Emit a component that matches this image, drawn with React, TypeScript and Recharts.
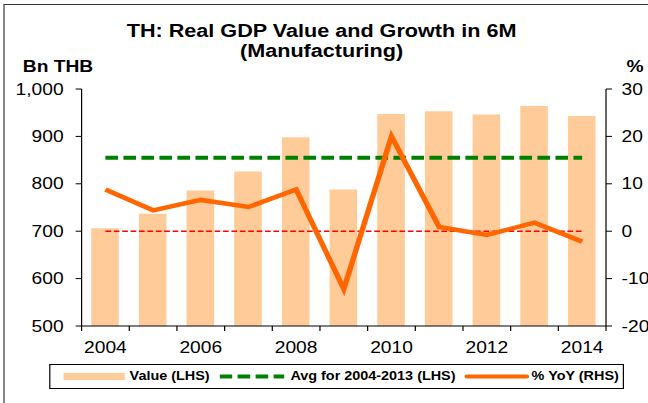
import { Bar, ComposedChart, Line, XAxis, YAxis } from "recharts";

const YEARS = [2004, 2005, 2006, 2007, 2008, 2009, 2010, 2011, 2012, 2013, 2014];
const VALUE_BN_THB = [706, 737, 786, 826, 898, 788, 947, 953, 946, 964, 943];
const YOY_PCT = [8.8, 4.4, 6.6, 5.1, 8.8, -12.2, 20.0, 0.9, -0.8, 1.8, -2.2];
const AVG_2004_2013 = 855;
const ZERO_PCT = 0;

const LABELED_YEARS = [2004, 2006, 2008, 2010, 2012, 2014];
const LEFT_TICKS = [500, 600, 700, 800, 900, 1000];
const RIGHT_TICKS = [-20, -10, 0, 10, 20, 30];

// the original picture is stretched sideways, so draw narrow and scale on x
const SX = 1.2;
const W = 540;
const H = 403;
const LEFT_W = 68;
const RIGHT_W = 35;
const BAND = (W - LEFT_W - RIGHT_W) / YEARS.length;

const BAR = "#FFCC99";
const ORANGE = "#FF6600";
const GREEN = "#008000";
const RED = "#FF0000";
const FONT = "'Liberation Sans', Arial, sans-serif";
const TICK_FONT = 16;

const rows = YEARS.map((year, i) => ({
  year,
  value: VALUE_BN_THB[i],
  avg: AVG_2004_2013,
  zero: ZERO_PCT,
  yoy: YOY_PCT[i],
}));

// Excel-style category ticks: marks sit between categories
const YearTick = (props: any) => {
  const { x, y, payload, index } = props;
  const half = BAND / 2;
  return (
    <g>
      <line x1={x - half} x2={x - half} y1={y} y2={y + 5} stroke="#000" />
      {index === YEARS.length - 1 && (
        <line x1={x + half} x2={x + half} y1={y} y2={y + 5} stroke="#000" />
      )}
      {LABELED_YEARS.includes(payload.value) && (
        <text x={x} y={y + 27} textAnchor="middle" fontSize={TICK_FONT} fill="#000">
          {payload.value}
        </text>
      )}
    </g>
  );
};

const legendText: React.CSSProperties = {
  position: "absolute",
  top: 0,
  fontSize: 12,
  fontWeight: "bold",
  lineHeight: "23px",
  whiteSpace: "nowrap",
};

const ChartLegend = () => (
  <div
    style={{
      position: "absolute",
      left: 41,
      top: 364,
      width: 479,
      height: 25,
      border: "1px solid #000",
      boxSizing: "border-box",
      background: "#fff",
    }}
  >
    <span style={{ position: "absolute", left: 11, top: 8, width: 51, height: 7, background: BAR }} />
    <span style={{ ...legendText, left: 66 }}>Value (LHS)</span>
    <svg style={{ position: "absolute", left: 141, top: 0 }} width={54} height={23}>
      <line x1={0} x2={54} y1={11.5} y2={11.5} stroke={GREEN} strokeWidth={4} strokeDasharray="10.5 4.5" />
    </svg>
    <span style={{ ...legendText, left: 200 }}>Avg for 2004-2013 (LHS)</span>
    <svg style={{ position: "absolute", left: 345, top: 0 }} width={54} height={23}>
      <line x1={2} x2={52} y1={11.5} y2={11.5} stroke={ORANGE} strokeWidth={4} strokeLinecap="round" />
    </svg>
    <span style={{ ...legendText, left: 401 }}>% YoY (RHS)</span>
  </div>
);

export default function App() {
  return (
    <div
      style={{
        position: "absolute",
        left: 0,
        top: 0,
        width: 648,
        height: H,
        overflow: "hidden",
        background: "#fff",
        fontFamily: FONT,
        color: "#000",
      }}
    >
      <div
        style={{
          position: "absolute",
          left: 3,
          top: 4,
          right: 0,
          bottom: 0,
          borderTop: "1px solid #333",
          borderLeft: "2px solid #888",
        }}
      />
      <div
        style={{
          position: "absolute",
          left: 0,
          top: 0,
          width: W,
          height: H,
          transform: `scaleX(${SX})`,
          transformOrigin: "0 0",
        }}
      >
        <div
          style={{
            position: "absolute",
            left: 0,
            top: 21,
            width: 536,
            textAlign: "center",
            fontSize: 18,
            fontWeight: "bold",
            lineHeight: "20px",
          }}
        >
          TH: Real GDP Value and Growth in 6M
          <br />
          (Manufacturing)
        </div>
        <div style={{ position: "absolute", left: 19, top: 59, fontSize: 16, fontWeight: "bold", lineHeight: "16px" }}>
          Bn THB
        </div>
        <div style={{ position: "absolute", left: 522, top: 59, fontSize: 16, fontWeight: "bold", lineHeight: "16px" }}>
          %
        </div>

        <ComposedChart width={W} height={H} data={rows} margin={{ top: 89, right: 0, bottom: 0, left: 0 }}>
          <XAxis
            dataKey="year"
            height={77}
            interval={0}
            tickSize={0}
            tickMargin={0}
            tickLine={false}
            axisLine={{ stroke: "#000" }}
            tick={<YearTick />}
          />
          <YAxis
            yAxisId="left"
            width={LEFT_W}
            domain={[500, 1000]}
            ticks={LEFT_TICKS}
            tickFormatter={(v: number) => v.toLocaleString("en-US")}
            tickSize={5}
            tickMargin={10}
            axisLine={{ stroke: "#000" }}
            tickLine={{ stroke: "#000" }}
            tick={{ fontSize: TICK_FONT, fill: "#000" }}
          />
          <YAxis
            yAxisId="right"
            orientation="right"
            width={RIGHT_W}
            domain={[-20, 30]}
            ticks={RIGHT_TICKS}
            tickSize={5}
            tickMargin={8}
            axisLine={{ stroke: "#000" }}
            tickLine={{ stroke: "#000" }}
            tick={{ fontSize: TICK_FONT, fill: "#000", textAnchor: "start" }}
          />
          <Bar yAxisId="left" dataKey="value" fill={BAR} barSize={23} isAnimationActive={false} />
          <Line
            yAxisId="left"
            dataKey="avg"
            stroke={GREEN}
            strokeWidth={4}
            strokeDasharray="10.5 4.5"
            dot={false}
            activeDot={false}
            isAnimationActive={false}
          />
          <Line
            yAxisId="right"
            dataKey="zero"
            stroke={RED}
            strokeWidth={1.5}
            strokeDasharray="4.7 2.3"
            dot={false}
            activeDot={false}
            isAnimationActive={false}
          />
          <Line
            yAxisId="right"
            dataKey="yoy"
            stroke={ORANGE}
            strokeWidth={4.5}
            dot={false}
            activeDot={false}
            isAnimationActive={false}
          />
        </ComposedChart>
        <ChartLegend />
      </div>
    </div>
  );
}
